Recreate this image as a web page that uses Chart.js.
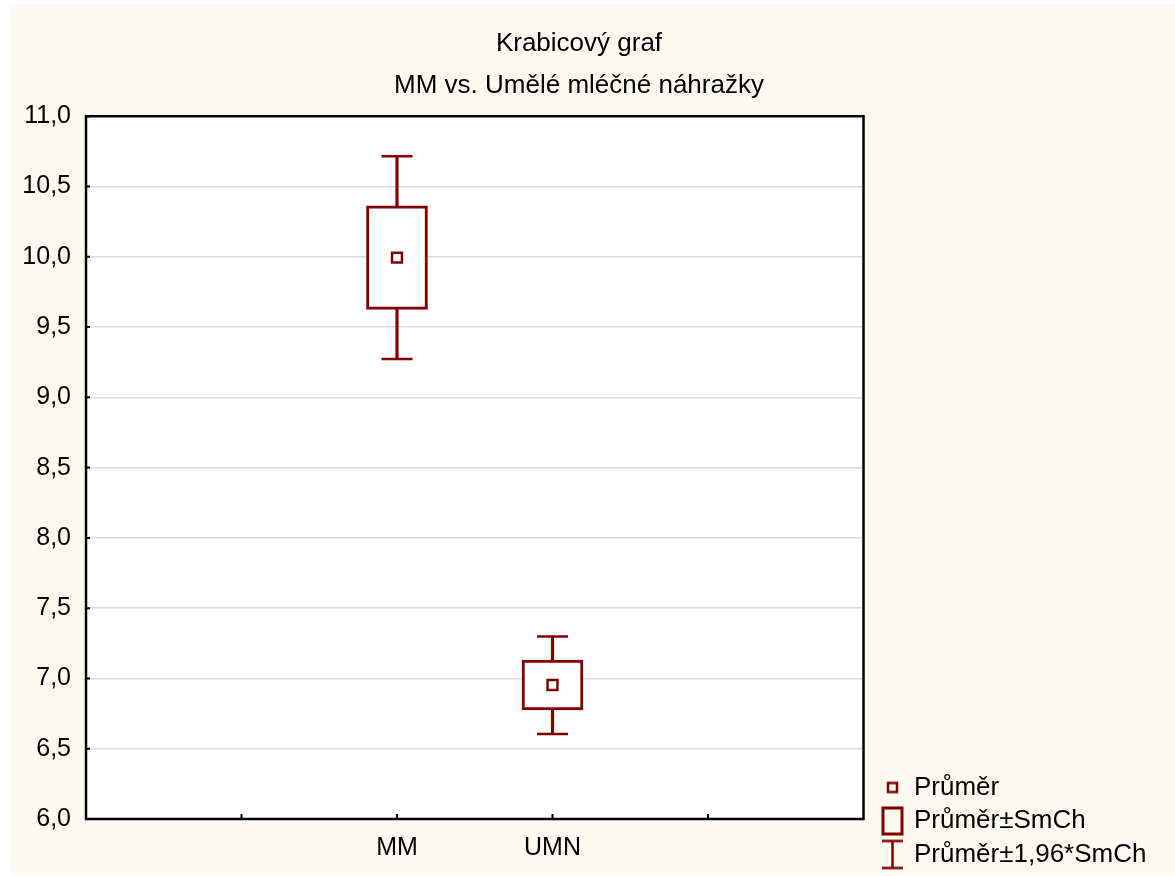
<!DOCTYPE html>
<html>
<head>
<meta charset="utf-8">
<script src="https://cdn.jsdelivr.net/npm/chart.js@4.4.1/dist/chart.umd.min.js"></script>
<style>
    body { margin: 0; background: #ffffff; }
    #wrap { position: absolute; left: 10px; top: 4px; width: 1165px; height: 871px; background: #fffaf0; }
</style>
</head>
<body>
<div id="wrap"><canvas id="boxChart"></canvas></div>
<script>
// data
const categories = ['MM', 'UMN'];
const means = [9.994, 6.953];
const seLow = [9.626, 6.776];
const seHigh = [10.362, 7.130];
const ciLow = [9.272, 6.605];
const ciHigh = [10.716, 7.298];
const titleLines = ['Krabicový graf', 'MM vs. Umělé mléčné náhražky'];
const legendNames = ['Průměr', 'Průměr±SmCh', 'Průměr±1,96*SmCh'];

const red = '#800000';
const fontFamily = '"Liberation Sans", Arial, sans-serif';

// two empty slots on each side of the categories, like the original axis
const axisLabels = ['', ''].concat(categories, ['', '']);
function pad(values) {
    return [null, null].concat(values, [null, null]);
}

// legend icons, drawn a bit right of the canvas centre to leave a gap after the plot
function makeIcon(kind) {
    const c = document.createElement('canvas');
    c.width = 44;
    c.height = 32;
    const g = c.getContext('2d');
    const cx = 28.5;
    g.strokeStyle = red;
    g.lineWidth = 2.5;
    if (kind === 'mean') {
        g.strokeRect(cx - 4.5, 11.5, 9, 9);
    } else if (kind === 'box') {
        g.lineWidth = 3;
        g.strokeRect(cx - 9.5, 3, 19, 26);
    } else {
        g.beginPath();
        g.moveTo(cx - 10.5, 2.5); g.lineTo(cx + 10.5, 2.5);
        g.moveTo(cx, 2.5); g.lineTo(cx, 29.5);
        g.moveTo(cx - 10.5, 29.5); g.lineTo(cx + 10.5, 29.5);
        g.stroke();
    }
    return c;
}

const frame = {
    id: 'frame',
    beforeDraw(chart) {
        const a = chart.chartArea;
        const ctx = chart.ctx;
        ctx.save();
        ctx.fillStyle = '#ffffff';
        ctx.fillRect(a.left, a.top, a.right - a.left, a.bottom - a.top);
        ctx.restore();
    },
    afterDraw(chart) {
        const a = chart.chartArea;
        const ctx = chart.ctx;
        const x = chart.scales.x;
        const y = chart.scales.y;
        ctx.save();
        ctx.strokeStyle = '#000000';
        ctx.lineWidth = 2.5;
        ctx.strokeRect(a.left, a.top, a.right - a.left, a.bottom - a.top);
        ctx.lineWidth = 2;
        ctx.beginPath();
        for (let i = 1; i < axisLabels.length - 1; i++) {
            const px = x.getPixelForValue(i);
            ctx.moveTo(px, a.bottom);
            ctx.lineTo(px, a.bottom - 5);
        }
        y.ticks.forEach(t => {
            const py = y.getPixelForValue(t.value);
            ctx.moveTo(a.left, py);
            ctx.lineTo(a.left + 4, py);
        });
        ctx.stroke();
        ctx.restore();
    }
};

const ctx = document.getElementById('boxChart').getContext('2d');
new Chart(ctx, {
    type: 'bar',
    data: {
        labels: axisLabels,
        datasets: [
            {
                type: 'line',
                label: 'mean',
                data: pad(means),
                showLine: false,
                pointStyle: 'rect',
                pointRadius: 7,
                pointBorderWidth: 2.5,
                borderColor: red,
                backgroundColor: '#ffffff',
                order: 0
            },
            {
                label: 'se',
                data: pad(categories.map((c, i) => [seLow[i], seHigh[i]])),
                barThickness: 61,
                backgroundColor: '#ffffff',
                borderColor: red,
                borderWidth: 3,
                borderSkipped: false,
                grouped: false,
                order: 1
            },
            {
                label: 'ci',
                data: pad(categories.map((c, i) => [ciLow[i], ciHigh[i]])),
                barThickness: 2.5,
                backgroundColor: red,
                borderWidth: 0,
                grouped: false,
                order: 2
            },
            {
                type: 'line',
                label: 'ciHigh',
                data: pad(ciHigh),
                showLine: false,
                pointStyle: 'line',
                pointRadius: 15.5,
                pointBorderWidth: 2.5,
                borderColor: red,
                order: 3
            },
            {
                type: 'line',
                label: 'ciLow',
                data: pad(ciLow),
                showLine: false,
                pointStyle: 'line',
                pointRadius: 15.5,
                pointBorderWidth: 2.5,
                borderColor: red,
                order: 3
            }
        ]
    },
    options: {
        responsive: true,
        maintainAspectRatio: false,
        animation: false,
        layout: { padding: { left: 0, right: 27, top: 0, bottom: 0 } },
        scales: {
            x: {
                offset: false,
                grid: { display: false },
                border: { display: false },
                ticks: {
                    autoSkip: false,
                    maxRotation: 0,
                    padding: 6,
                    color: '#000000',
                    font: { family: fontFamily, size: 25 }
                },
                afterFit(scale) { scale.height = 56; }
            },
            y: {
                min: 6,
                max: 11,
                grid: { color: '#dcdcdc', lineWidth: 1.5, drawTicks: false },
                border: { display: false },
                ticks: {
                    stepSize: 0.5,
                    padding: 15,
                    color: '#000000',
                    font: { family: fontFamily, size: 25 },
                    callback: v => v.toFixed(1).replace('.', ',')
                },
                afterFit(scale) { scale.width = 76; }
            }
        },
        plugins: {
            title: {
                display: true,
                text: titleLines,
                color: '#000000',
                font: { family: fontFamily, size: 26, weight: 'normal', lineHeight: 1.62 },
                padding: { top: 19, bottom: 9 }
            },
            legend: {
                position: 'right',
                align: 'end',
                labels: {
                    usePointStyle: true,
                    pointStyleWidth: 30,
                    padding: 7.5,
                    color: '#000000',
                    font: { family: fontFamily, size: 26 },
                    generateLabels: () => ['mean', 'box', 'whisker'].map((k, i) => ({
                        text: legendNames[i],
                        pointStyle: makeIcon(k),
                        fontColor: '#000000',
                        strokeStyle: red,
                        lineWidth: 0,
                        hidden: false
                    }))
                }
            },
            tooltip: { enabled: false }
        }
    },
    plugins: [frame]
});
</script>
</body>
</html>
